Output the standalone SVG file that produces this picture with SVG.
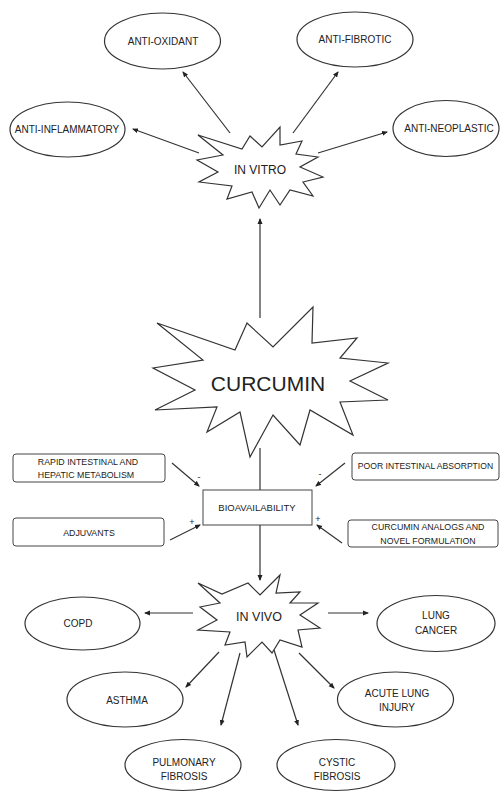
<svg xmlns="http://www.w3.org/2000/svg" width="500" height="792" viewBox="0 0 500 792">
<defs>
<marker id="ah" markerWidth="6" markerHeight="6" refX="5" refY="3" orient="auto" markerUnits="userSpaceOnUse">
<path d="M0,0.5 L6,3 L0,5.5 z" fill="#222"/>
</marker>
<style>
.sh{fill:#fff;stroke:#333;stroke-width:1.2}
.el{fill:#fff;stroke:#333;stroke-width:1.2}
.bx{fill:#fff;stroke:#444;stroke-width:1}
.t{font-family:"Liberation Sans",Arial,sans-serif;fill:#222;text-anchor:middle}
.s10{font-size:10px}
.s9{font-size:8.8px}
.cn{fill:none;stroke:#333;stroke-width:1.2}
</style>
</defs>
<rect width="500" height="792" fill="#fff"/>

<g id="connectors">
<line class="cn" x1="230" y1="133" x2="183" y2="72" marker-end="url(#ah)"/>
<line class="cn" x1="293" y1="133" x2="338" y2="72" marker-end="url(#ah)"/>
<line class="cn" x1="199" y1="153" x2="133" y2="129" marker-end="url(#ah)"/>
<line class="cn" x1="318" y1="153" x2="387" y2="132" marker-end="url(#ah)"/>
<line class="cn" x1="260" y1="318" x2="260" y2="219" marker-end="url(#ah)"/>
<line class="cn" x1="260" y1="448" x2="260" y2="490"/>
<line class="cn" x1="172" y1="463" x2="199" y2="486" marker-end="url(#ah)"/>
<line class="cn" x1="345" y1="463" x2="316" y2="486" marker-end="url(#ah)"/>
<line class="cn" x1="170" y1="540" x2="200" y2="525" marker-end="url(#ah)"/>
<line class="cn" x1="342" y1="543" x2="317" y2="525" marker-end="url(#ah)"/>
<line class="cn" x1="260" y1="525" x2="260" y2="580" marker-end="url(#ah)"/>
<line class="cn" x1="193" y1="613" x2="145" y2="613" marker-end="url(#ah)"/>
<line class="cn" x1="328" y1="613" x2="368" y2="613" marker-end="url(#ah)"/>
<line class="cn" x1="219" y1="652" x2="186" y2="687" marker-end="url(#ah)"/>
<line class="cn" x1="240" y1="653" x2="221" y2="725" marker-end="url(#ah)"/>
<line class="cn" x1="274" y1="650" x2="298" y2="725" marker-end="url(#ah)"/>
<line class="cn" x1="299" y1="653" x2="334" y2="688" marker-end="url(#ah)"/>
<text class="t" x="199" y="480" font-size="9">-</text>
<text class="t" x="320" y="477" font-size="9">-</text>
<text class="t" x="192" y="525" font-size="9">+</text>
<text class="t" x="318" y="522" font-size="9">+</text>
</g>

<g id="anti-oxidant"><ellipse class="el" cx="162.5" cy="41" rx="58" ry="28"/><text class="t s10" x="163" y="45">ANTI-OXIDANT</text></g>
<g id="anti-fibrotic"><ellipse class="el" cx="355" cy="39.5" rx="58" ry="27.5"/><text class="t s10" x="355" y="43">ANTI-FIBROTIC</text></g>
<g id="anti-inflammatory"><ellipse class="el" cx="67.5" cy="129.5" rx="57.5" ry="27.5"/><text class="t s10" x="67" y="133">ANTI-INFLAMMATORY</text></g>
<g id="anti-neoplastic"><ellipse class="el" cx="446" cy="128.5" rx="53" ry="28"/><text class="t s10" x="449" y="132">ANTI-NEOPLASTIC</text></g>

<g id="in-vitro">
<polygon class="sh" points="198,135 242,149 250,136 262,147 280,127 280,145 302,141 296,154 318,157 300,167 323,177 303,182 313,196 290,190 280,205 270,190 259,208 252,192 227,199 232,186 199,182 218,172 197,160 223,155"/>
<text class="t" x="260" y="174" font-size="12">IN VITRO</text>
</g>

<g id="curcumin">
<polygon class="sh" points="157,323 235,350 247,323 273,347 313,307 312,343 357,338 340,358 388,363 350,381 388,400 340,402 353,435 310,410 300,445 273,415 250,457 240,412 207,432 217,407 155,410 195,390 153,368 203,360"/>
<text class="t" x="268" y="391" font-size="21">CURCUMIN</text>
</g>

<g id="bioavailability"><rect class="bx" x="203" y="490" width="109" height="35"/><text class="t" x="257" y="511" font-size="9.5">BIOAVAILABILITY</text></g>

<g id="rapid-metabolism"><rect class="bx" x="13" y="454" width="152" height="28" rx="3"/><text class="t s9" x="88" y="465">RAPID INTESTINAL AND</text><text class="t s9" x="86" y="478">HEPATIC METABOLISM</text></g>
<g id="poor-absorption"><rect class="bx" x="352" y="453" width="147" height="27" rx="3"/><text class="t" x="425.5" y="469" font-size="8.6">POOR INTESTINAL ABSORPTION</text></g>
<g id="adjuvants"><rect class="bx" x="13" y="518" width="151" height="28" rx="3"/><text class="t s9" x="89" y="536">ADJUVANTS</text></g>
<g id="curcumin-analogs"><rect class="bx" x="348" y="520" width="150" height="27" rx="3"/><text class="t s9" x="428" y="530">CURCUMIN ANALOGS AND</text><text class="t s9" x="428" y="544">NOVEL FORMULATION</text></g>

<g id="in-vivo">
<polygon class="sh" points="198,583 222,594 248,583 260,595 280,575 276,593 300,592 290,603 318,603 300,615 320,628 298,630 302,647 280,640 272,653 262,642 247,657 245,642 225,645 230,632 198,630 217,620 200,607 220,603"/>
<text class="t" x="259" y="621" font-size="12.5">IN VIVO</text>
</g>

<g id="copd"><ellipse class="el" cx="82.5" cy="623.5" rx="57.5" ry="26.5"/><text class="t s10" x="78" y="627">COPD</text></g>
<g id="lung-cancer"><ellipse class="el" cx="436" cy="623.5" rx="59" ry="28"/><text class="t s10" x="436" y="619">LUNG</text><text class="t s10" x="436" y="634">CANCER</text></g>
<g id="asthma"><ellipse class="el" cx="125" cy="699.5" rx="58" ry="27.5"/><text class="t s10" x="127" y="704">ASTHMA</text></g>
<g id="acute-lung-injury"><ellipse class="el" cx="395.5" cy="699.5" rx="58" ry="27.5"/><text class="t s10" x="397" y="697">ACUTE LUNG</text><text class="t s10" x="397" y="711">INJURY</text></g>
<g id="pulmonary-fibrosis"><ellipse class="el" cx="183" cy="765" rx="58" ry="25.5"/><text class="t s10" x="184" y="766">PULMONARY</text><text class="t s10" x="184" y="780">FIBROSIS</text></g>
<g id="cystic-fibrosis"><ellipse class="el" cx="336" cy="765" rx="59" ry="25.5"/><text class="t s10" x="337" y="766">CYSTIC</text><text class="t s10" x="337" y="780">FIBROSIS</text></g>
</svg>
